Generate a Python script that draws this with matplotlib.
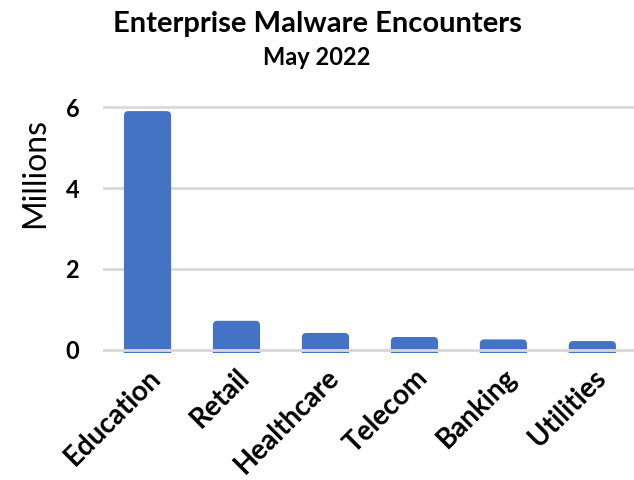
import matplotlib
matplotlib.use("Agg")
import matplotlib.pyplot as plt
from matplotlib.patches import FancyBboxPatch

# data (millions of encounters)
categories = ["Education", "Retail", "Healthcare", "Telecom", "Banking", "Utilities"]
values = [5.90, 0.72, 0.42, 0.32, 0.26, 0.22]
yticks = [0, 2, 4, 6]

plt.rcParams['font.family'] = ['Lato', 'DejaVu Sans']

barColor = "#4472C4"
gridColor = "#D9D9D9"
barWidth = 0.53

fig = plt.figure(figsize=(6.34, 4.8), dpi=100)
ax = fig.add_axes([0.1625, 0.2642, 0.842, 0.517])
ax.set_xlim(-0.5, len(categories) - 0.5)
ax.set_ylim(-0.08, 6.05)

# aspect between data units so the rounded corners look circular
fig.canvas.draw()
p0 = ax.transData.transform((0, 0))
p1 = ax.transData.transform((1, 1))
pxPerX = p1[0] - p0[0]
pxPerY = p1[1] - p0[1]
aspect = pxPerX / pxPerY
radius = 4.5 / pxPerX

for i, v in enumerate(values):
    # start below the visible area so only the top corners show rounded
    patch = FancyBboxPatch((i - barWidth / 2, -0.5), barWidth, v + 0.5,
                           boxstyle="round,pad=0,rounding_size=%f" % radius,
                           mutation_aspect=aspect,
                           facecolor=barColor, edgecolor="none", zorder=2)
    ax.add_patch(patch)

ax.yaxis.grid(True, color=gridColor, linewidth=2)
ax.set_axisbelow(True)
ax.axhline(0, color=gridColor, linewidth=2, zorder=3)

for sp in ax.spines.values():
    sp.set_visible(False)

ax.set_yticks(yticks)
ax.set_yticklabels([str(t) for t in yticks], fontsize=17, fontweight='bold')
ax.tick_params(axis='y', length=0, pad=22)
for lbl in ax.get_yticklabels():
    lbl.set_horizontalalignment('center')
ax.set_xticks(range(len(categories)))
ax.set_xticklabels(categories, fontsize=20, fontweight='bold', rotation=45,
                   ha='right', rotation_mode='anchor')
ax.tick_params(axis='x', length=0, pad=8)

ax.set_ylabel("Millions", fontsize=23)
ax.yaxis.set_label_coords(-0.100, 0.726)

fig.text(0.5, 0.951, "Enterprise Malware Encounters", ha='center', va='center',
         fontsize=21, fontweight='bold')
fig.text(0.5, 0.88, "May 2022", ha='center', va='center',
         fontsize=17, fontweight='bold')

fig.savefig("out.png", dpi=100)
